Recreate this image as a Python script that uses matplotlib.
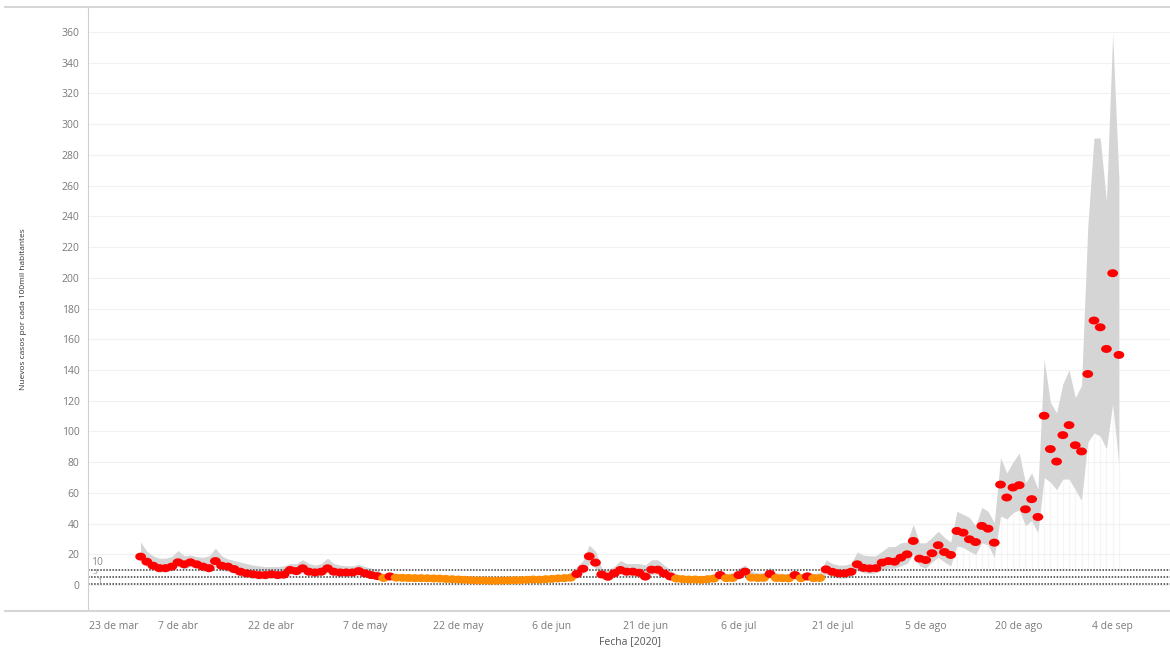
"""Nuevos casos por cada 100mil habitantes, 2020 (recreación del gráfico de Tableau)."""

import numpy as np
import pandas as pd
import matplotlib
matplotlib.use("Agg")
import matplotlib.pyplot as plt
from matplotlib.lines import Line2D
from matplotlib.path import Path

# serie diaria desde el 1 de abril
INICIO = "2020-04-01"
casos = [
    18.5, 15.2, 12.6, 11.0, 11.0, 12.0, 14.8, 13.5, 14.8, 13.5,
    12.0, 11.0, 15.6, 12.6, 12.0, 10.4, 8.7, 7.6, 7.0, 6.5,
    6.5, 7.0, 6.5, 6.8, 9.8, 9.1, 10.9, 8.7, 8.2, 8.7,
    10.9, 8.7, 8.2, 8.2, 8.2, 9.1, 7.6, 6.5, 5.8, 4.6,
    5.6, 4.8, 4.7, 4.6, 4.5, 4.5, 4.4, 4.3, 4.2, 4.0,
    3.8, 3.6, 3.4, 3.2, 3.0, 3.0, 2.8, 2.8, 2.9, 3.0,
    3.1, 3.2, 3.4, 3.6, 3.5, 3.8, 4.0, 4.3, 4.5, 4.8,
    7.2, 10.6, 18.7, 14.6, 6.9, 5.4, 7.6, 9.8, 8.7, 8.7,
    8.0, 5.5, 10.0, 10.0, 7.5, 5.6, 4.2, 3.8, 3.6, 3.6,
    3.4, 3.8, 4.2, 6.5, 4.5, 4.6, 6.5, 8.7, 4.8, 4.6,
    4.7, 7.2, 4.6, 4.5, 4.4, 6.5, 4.5, 5.6, 4.5, 4.6,
    10.2, 8.6, 7.6, 7.6, 8.6, 13.5, 11.2, 10.8, 11.0, 14.6,
    15.6, 15.2, 17.8, 20.0, 28.7, 17.2, 16.3, 20.7, 25.9, 21.5,
    19.6, 35.2, 34.1, 29.8, 28.0, 38.5, 36.7, 27.6, 65.4, 57.0,
    63.5, 65.0, 49.3, 55.9, 44.3, 110.2, 88.5, 80.4, 97.6, 104.1,
    91.0, 87.0, 137.4, 172.2, 167.8, 153.7, 203.0, 149.8,
]
banda_sup = [
    28, 22, 19, 17.5, 17.5, 18.5, 22.5, 19, 19.5, 18.5,
    18, 19, 24, 19, 17, 16, 15, 14, 13, 12.5,
    12, 12, 12, 12.5, 14, 14, 16.5, 14, 13, 14,
    17.5, 14, 13, 12.5, 12.5, 13.5, 12, 11, 10, 7,
    8, 7, 7, 7, 7, 7, 6.5, 6.5, 6, 6,
    5.5, 5.5, 5, 5, 5, 5, 4.5, 4.5, 4.5, 5,
    5, 5, 5, 5.5, 5.5, 6, 6, 6.5, 7, 8,
    12, 16, 26, 22, 11, 10, 12, 16, 14, 14,
    14, 13, 16.5, 16.5, 13, 10, 7, 6.5, 6, 6,
    6, 6.5, 7, 10, 7.5, 8, 11, 13, 9, 8,
    8, 11.5, 8, 7.5, 7.5, 10, 7.5, 9, 7.5, 8,
    16.5, 14, 13, 13, 14, 21.5, 19.5, 19, 19, 22,
    25, 25, 27.5, 28, 39.5, 27.5, 27.5, 31, 35, 31,
    28, 48, 46, 44, 38.5, 50.5, 48, 40.5, 83, 73,
    80, 86, 66.5, 73, 62.5, 147, 119, 112, 131, 140,
    122, 130, 233, 291, 291, 250, 359, 264,
]
banda_inf = [
    15.5, 12, 10, 8.5, 8.5, 9.5, 12, 10.5, 12, 10.5,
    9, 8.5, 12, 9.5, 9, 7.5, 6, 5, 4.5, 4,
    4, 4.5, 4, 4.5, 7, 6.5, 8, 6, 5.5, 6,
    8, 6, 5.5, 5.5, 5.5, 6.5, 5, 4, 3.5, 2.5,
    3.5, 3, 3, 2.5, 2.5, 2.5, 2.5, 2.5, 2.5, 2,
    2, 2, 2, 1.5, 1.5, 1.5, 1.5, 1.5, 1.5, 1.5,
    1.5, 1.5, 2, 2, 2, 2, 2.5, 2.5, 2.5, 3,
    4.5, 7.5, 14, 11, 4, 3, 5, 7, 6, 6,
    5.5, 3, 7, 7, 5, 3, 2.5, 2, 2, 2,
    2, 2, 2.5, 4, 2.5, 2.5, 4, 6, 3, 2.5,
    2.5, 5, 2.5, 2.5, 2.5, 4, 2.5, 3.5, 2.5, 2.5,
    7, 5.5, 4.5, 4.5, 5.5, 9.5, 8, 7.5, 8, 10,
    11, 11, 12.5, 14, 20, 12.5, 11, 15, 18, 15,
    12.5, 25.5, 24.5, 22, 20, 27.5, 26, 18, 45, 43,
    47, 49, 38.5, 42, 34, 70, 67, 62, 69, 69,
    62, 55, 93, 99, 97, 88.5, 118, 78,
]
UMBRAL = 5  # por debajo se pinta naranja

ref_niveles = [10, 5, 1]
ref_textos = ["10", "5", "1"]

tick_fechas = ["2020-04-07", "2020-04-22", "2020-05-07", "2020-05-22",
               "2020-06-06", "2020-06-21", "2020-07-06", "2020-07-21",
               "2020-08-05", "2020-08-20", "2020-09-04"]
tick_textos = ["7 de abr", "22 de abr", "7 de may", "22 de may", "6 de jun",
               "21 de jun", "6 de jul", "21 de jul", "5 de ago", "20 de ago",
               "4 de sep"]
primer_tick = "23 de mar"
y_ticks = list(range(0, 361, 20))

ROJO = "#ff0000"
NARANJA = "#ff8c00"
GRIS_BANDA = "#d5d5d5"
GRIS_TEXTO = "#7a7a7a"

plt.rcParams["font.family"] = ["Open Sans", "DejaVu Sans"]

fechas = pd.date_range(INICIO, periods=len(casos), freq="D")
casos_arr = np.array(casos)
colores = np.where(casos_arr >= UMBRAL, ROJO, NARANJA)

fig = plt.figure(figsize=(11.7, 6.5), dpi=100)
ax = fig.add_axes([88 / 1170, 1 - 611 / 650, 1 - 88 / 1170, (611 - 7) / 650])

# banda gris
ax.fill_between(fechas, banda_inf, banda_sup, color=GRIS_BANDA, linewidth=0, zorder=1)

# rayas verticales tenues bajo la banda (parte final)
tardio = casos_arr > 25
ax.vlines(fechas[tardio], 10, np.array(banda_inf)[tardio], color="#f5f5f5",
          linewidth=1.0, zorder=0.5)

# líneas de referencia punteadas
estilo_ref = {"10": ((2, 1.5), 7.5), "5": ((3, 1.2), 6), "1": ((7, -0.8), 5.5)}
for nivel, txt in zip(ref_niveles, ref_textos):
    ax.axhline(nivel, color="#3a3a3a", linewidth=1.1, linestyle=(0, (1, 1)), zorder=2)
    desplaz, tam = estilo_ref[txt]
    ax.annotate(txt, xy=(0, nivel), xycoords=("axes fraction", "data"),
                xytext=desplaz, textcoords="offset points", fontsize=tam,
                color="#8a8a8a", ha="left", va="bottom", zorder=2)

# puntos
elipse = Path(Path.unit_circle().vertices * [1.35, 1.0], Path.unit_circle().codes)
ax.scatter(fechas, casos_arr, c=colores, s=60, marker=elipse, edgecolors="none", zorder=3)

ax.set_ylim(-16.9, 376.3)
ax.set_xlim(pd.Timestamp("2020-04-01") - pd.Timedelta(days=8.44),
            pd.Timestamp("2020-04-01") + pd.Timedelta(days=165.2))

ax.set_yticks(y_ticks)
ax.set_yticklabels([str(v) for v in y_ticks])
ax.set_xticks(pd.to_datetime(tick_fechas))
ax.set_xticklabels(tick_textos)
ax.tick_params(axis="both", length=0, labelsize=7.5, colors=GRIS_TEXTO)
ax.tick_params(axis="y", pad=6)
ax.tick_params(axis="x", pad=7)
ax.annotate(primer_tick, xy=(0, 0), xycoords="axes fraction", xytext=(1, -7),
            textcoords="offset points", ha="left", va="top", fontsize=7.5,
            color=GRIS_TEXTO)

ax.grid(axis="y", color="#f1f1f1", linewidth=0.8)
ax.set_axisbelow(True)
for lado in ("top", "right", "bottom"):
    ax.spines[lado].set_visible(False)
ax.spines["left"].set_color("#cfcfcf")

ax.set_ylabel("Nuevos casos por cada 100mil habitantes", fontsize=6, color="#333333")
ax.yaxis.set_label_coords((27 - 88) / 1082, 0.5)
fig.text(630 / 1170, 1 - 642 / 650, "Fecha [2020]", fontsize=7.5, color="#555555",
         ha="center", va="center")

# líneas horizontales superior e inferior (estilo Tableau)
for y in (7, 611):
    fig.add_artist(Line2D([5 / 1170, 1], [1 - y / 650, 1 - y / 650],
                          transform=fig.transFigure, color="#d6d6d6", linewidth=1.5))

fig.savefig("out.png", dpi=100)
